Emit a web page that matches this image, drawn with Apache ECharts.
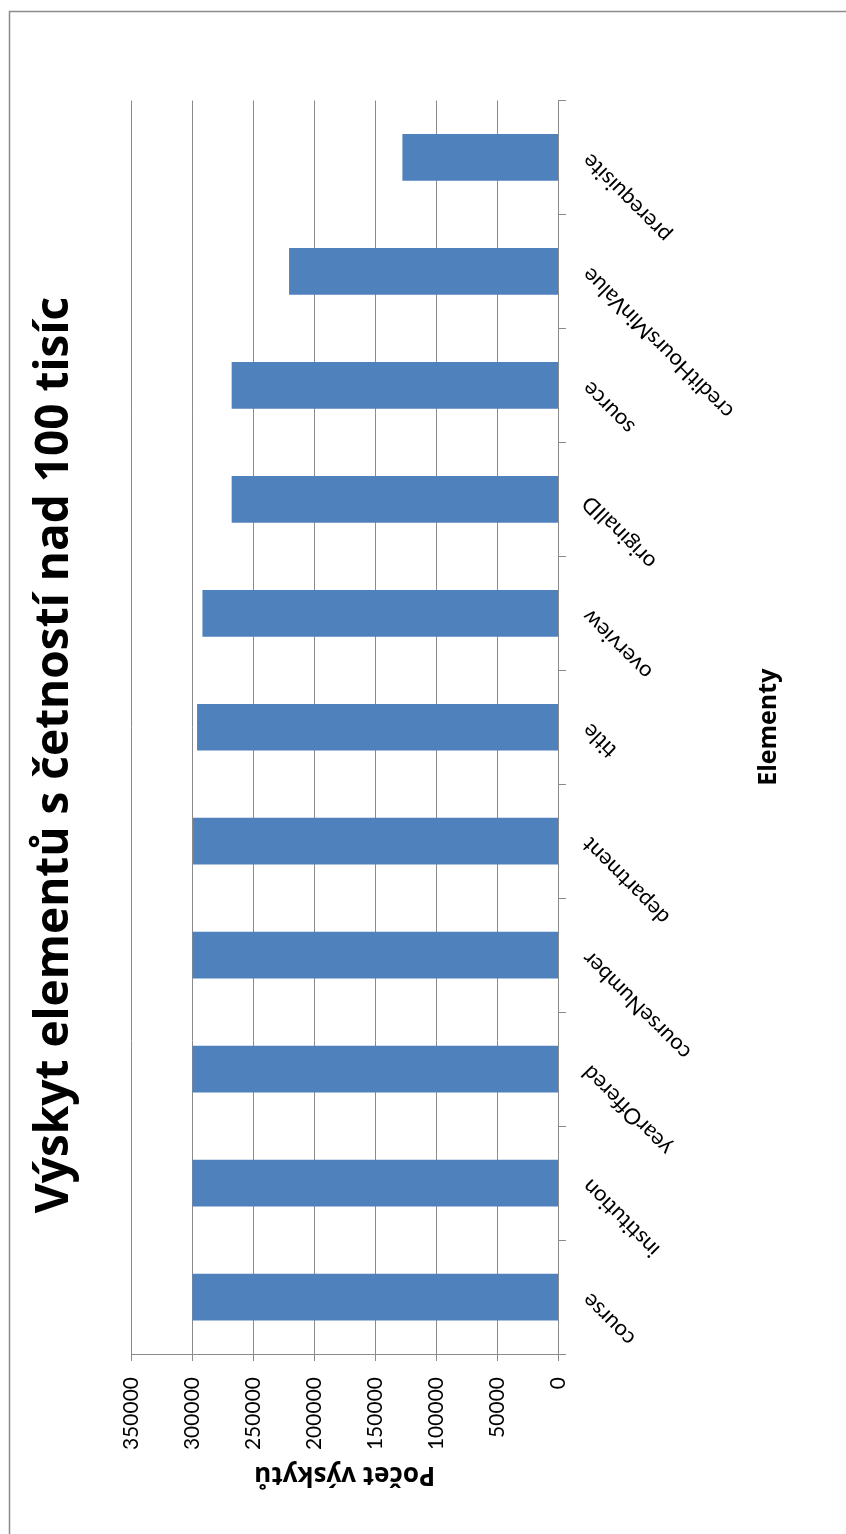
<!DOCTYPE html>
<html>
<head>
<meta charset="utf-8">
<title>Výskyt elementů</title>
<script src="https://cdn.jsdelivr.net/npm/echarts@6/dist/echarts.min.js"></script>
<style>
  html, body { margin: 0; padding: 0; background: #ffffff; }
  #chart { width: 846px; height: 1534px; }
</style>
</head>
<body>
<div id="chart"></div>
<script>
// Element names and how many times each occurs
const categories = [
  'course', 'institution', 'yearOffered', 'courseNumber', 'department',
  'title', 'overview', 'originalID', 'source', 'creditHoursMinValue', 'prerequisite'
];
const counts = [
  300000, 300000, 299900, 299800, 299500,
  296200, 291800, 267800, 267800, 220700, 127700
];
const valueMin = 0;
const valueMax = 350000;
const valueStep = 50000;

const titleText = 'Výskyt elementů s četností nad 100 tisíc';
const valueAxisName = 'Počet výskytů';
const categoryAxisName = 'Elementy';

const FONT = 'Lato, "Open Sans", "DejaVu Sans", sans-serif';
const HEAD_FONT = '"Open Sans", Lato, "DejaVu Sans", sans-serif';
const GRID_COLOR = '#8a8a8a';

const chart = echarts.init(document.getElementById('chart'));

chart.setOption({
  backgroundColor: '#ffffff',
  animation: false,
  textStyle: { fontFamily: FONT, color: '#000000' },
  grid: { left: 131.5, right: 288, top: 100.5, bottom: 180, containLabel: false },
  // value axis runs right-to-left along the bottom
  xAxis: {
    type: 'value',
    inverse: true,
    position: 'bottom',
    min: valueMin,
    max: valueMax,
    interval: valueStep,
    axisLine: { show: true, lineStyle: { color: GRID_COLOR, width: 1 } },
    axisTick: { show: true, length: 7, lineStyle: { color: GRID_COLOR, width: 1 } },
    splitLine: { show: true, lineStyle: { color: GRID_COLOR, width: 1 } },
    axisLabel: {
      rotate: 90,
      margin: 23,
      fontSize: 21,
      fontFamily: FONT,
      color: '#000000',
      formatter: function (v) { return String(v); }
    },
    name: valueAxisName,
    nameLocation: 'middle',
    nameRotate: 180,
    nameGap: 120,
    nameTextStyle: {
      fontSize: 26,
      fontWeight: 'bold',
      fontFamily: HEAD_FONT,
      color: '#000000',
      align: 'center',
      verticalAlign: 'middle'
    }
  },
  // category axis on the right, first element at the bottom
  yAxis: {
    type: 'category',
    position: 'right',
    data: categories,
    axisLine: { show: true, lineStyle: { color: GRID_COLOR, width: 1 } },
    axisTick: { show: true, length: 8, alignWithLabel: false, lineStyle: { color: GRID_COLOR, width: 1 } },
    splitLine: { show: false },
    axisLabel: {
      rotate: 135,
      margin: 28,
      fontSize: 22,
      fontFamily: FONT,
      color: '#000000',
      interval: 0
    },
    name: categoryAxisName,
    nameLocation: 'middle',
    nameRotate: 90,
    nameGap: 211,
    nameTextStyle: {
      fontSize: 25,
      fontWeight: 'bold',
      fontFamily: HEAD_FONT,
      color: '#000000',
      align: 'center',
      verticalAlign: 'middle'
    }
  },
  series: [{
    type: 'bar',
    data: counts,
    barCategoryGap: '59%',
    itemStyle: { color: '#4f81bd' },
    silent: true
  }],
  graphic: [
    {
      type: 'rect',
      silent: true,
      z: -10,
      shape: { x: 9.5, y: 11.5, width: 900, height: 1600 },
      style: { fill: 'none', stroke: '#8c8c8c', lineWidth: 1.5 }
    },
    {
      type: 'text',
      silent: true,
      x: 55,
      y: 755,
      rotation: Math.PI / 2,
      style: {
        text: titleText,
        fill: '#000000',
        font: 'bold 46px ' + HEAD_FONT,
        textAlign: 'center',
        textVerticalAlign: 'middle'
      }
    }
  ]
});
</script>
</body>
</html>
